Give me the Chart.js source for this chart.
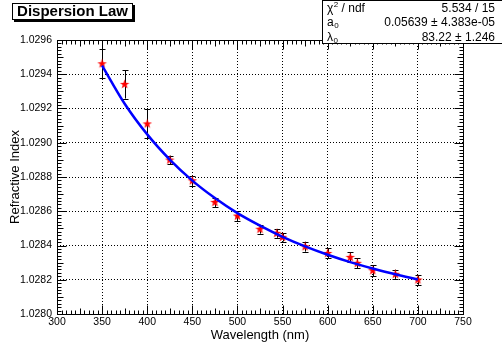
<!DOCTYPE html>
<html>
<head>
<meta charset="utf-8">
<script src="https://cdn.jsdelivr.net/npm/chart.js@4/dist/chart.umd.min.js"></script>
<style>
html, body { margin: 0; padding: 0; background: #fff; }
</style>
</head>
<body>
<canvas id="chart" width="502" height="347"></canvas>
<script>
// measured points (nm, refractive index, error)
const wavelengths = [350, 375, 400, 425, 450, 475, 500, 525, 543.5, 550, 575, 600, 625, 632.8, 650, 675, 700];
const refIndex = [1.029461, 1.029341, 1.029110, 1.028899, 1.028778, 1.028652, 1.028572, 1.028495, 1.028471,
                  1.028448, 1.028393, 1.028354, 1.028331, 1.028296, 1.028253, 1.028232, 1.028199];
const refIndexErr = [0.000085, 0.000083, 0.000085, 0.000026, 0.000030, 0.000027, 0.000027, 0.000026, 0.000026,
                     0.000025, 0.000029, 0.000029, 0.000029, 0.000029, 0.000032, 0.000027, 0.000029];

// fitted curve, read at every 25 nm
const fitWavelengths = [350, 375, 400, 425, 450, 475, 500, 525, 550, 575, 600, 625, 650, 675, 700];
const fitIndex = [1.029451, 1.029228, 1.029049, 1.028902, 1.028779, 1.028677, 1.028589, 1.028516,
                  1.028451, 1.028395, 1.028346, 1.028303, 1.028266, 1.028232, 1.028202];

const xRange = [300, 750];
const yRange = [1.0280, 1.0296];
const xStep = 50;
const yStep = 0.0002;

const plotTitle = 'Dispersion Law';
const statsNames = [['χ', '2', ' / ndf'], ['a', '0', ''], ['λ', '0', '']];
const statsValues = ['5.534 / 15', '0.05639 ± 4.383e-05', '83.22 ± 1.246'];

const FONT = '"Liberation Sans", Arial, Helvetica, sans-serif';

// red filled star, like root marker 29
function makeStar() {
    let c = document.createElement('canvas');
    c.width = 11; c.height = 11;
    let g = c.getContext('2d');
    g.fillStyle = '#ff0000';
    g.beginPath();
    for (let i = 0; i < 10; i++) {
        let r = i % 2 == 0 ? 5 : 2;
        let a = -Math.PI / 2 + i * Math.PI / 5;
        let px = 5.5 + r * Math.cos(a), py = 5.5 + r * Math.sin(a);
        if (i == 0) g.moveTo(px, py); else g.lineTo(px, py);
    }
    g.closePath();
    g.fill();
    return c;
}

const rootStyle = {
    id: 'rootStyle',
    beforeDraw(chart) {
        let ctx = chart.ctx;
        ctx.save();
        ctx.fillStyle = '#fff';
        ctx.fillRect(0, 0, chart.width, chart.height);
        ctx.restore();
    },
    beforeDatasetsDraw(chart) {
        // error bars
        let {ctx, scales: {x, y}} = chart;
        ctx.save();
        ctx.strokeStyle = '#000';
        ctx.lineWidth = 1;
        ctx.beginPath();
        for (let i = 0; i < wavelengths.length; i++) {
            let px = Math.round(x.getPixelForValue(wavelengths[i])) + 0.5;
            let top = y.getPixelForValue(refIndex[i] + refIndexErr[i]);
            let bot = y.getPixelForValue(refIndex[i] - refIndexErr[i]);
            ctx.moveTo(px, top); ctx.lineTo(px, bot);
            ctx.moveTo(px - 3, Math.round(top) + 0.5); ctx.lineTo(px + 3, Math.round(top) + 0.5);
            ctx.moveTo(px - 3, Math.round(bot) + 0.5); ctx.lineTo(px + 3, Math.round(bot) + 0.5);
        }
        ctx.stroke();
        ctx.restore();
    },
    afterDatasetsDraw(chart) {
        let {ctx, chartArea: a, scales: {x, y}} = chart;
        ctx.save();
        ctx.strokeStyle = '#000';
        ctx.lineWidth = 1;
        let L = Math.round(a.left) + 0.5, R = Math.round(a.right) + 0.5;
        let T = Math.round(a.top) + 0.5, B = Math.round(a.bottom) + 0.5;
        ctx.strokeRect(L, T, R - L, B - T);
        ctx.beginPath();
        let nx = Math.round((xRange[1] - xRange[0]) / (xStep / 10));
        for (let i = 0; i <= nx; i++) {
            let v = xRange[0] + i * xStep / 10;
            let len = i % 10 == 0 ? 9 : (i % 5 == 0 ? 6 : 4);
            let px = Math.round(x.getPixelForValue(v)) + 0.5;
            ctx.moveTo(px, B); ctx.lineTo(px, B - len);
            ctx.moveTo(px, T); ctx.lineTo(px, T + len);
        }
        let ny = Math.round((yRange[1] - yRange[0]) / (yStep / 10));
        for (let i = 0; i <= ny; i++) {
            let v = yRange[0] + i * yStep / 10;
            let len = i % 10 == 0 ? 9 : (i % 5 == 0 ? 6 : 4);
            let py = Math.round(y.getPixelForValue(v)) + 0.5;
            ctx.moveTo(L, py); ctx.lineTo(L + len, py);
            ctx.moveTo(R, py); ctx.lineTo(R - len, py);
        }
        ctx.stroke();
        ctx.restore();
    },
    afterDraw(chart) {
        let ctx = chart.ctx;
        ctx.save();
        // title box with shadow
        ctx.fillStyle = '#000';
        ctx.fillRect(14, 5, 121, 17);
        ctx.fillStyle = '#fff';
        ctx.fillRect(12, 3, 121, 17);
        ctx.strokeStyle = '#000';
        ctx.lineWidth = 1;
        ctx.strokeRect(12.5, 3.5, 120, 16);
        ctx.fillStyle = '#000';
        ctx.font = 'bold 15px ' + FONT;
        ctx.textBaseline = 'middle';
        ctx.textAlign = 'center';
        ctx.fillText(plotTitle, 72.5, 12);

        // stats box
        ctx.fillStyle = '#fff';
        ctx.fillRect(322, 0, 180, 44);
        ctx.strokeRect(322.5, 0.5, 180, 43);
        ctx.fillStyle = '#000';
        for (let r = 0; r < statsValues.length; r++) {
            let cy = 8.5 + r * 14.5;
            let parts = statsNames[r];
            ctx.textAlign = 'left';
            ctx.font = '12px ' + FONT;
            let cx = 327;
            ctx.fillText(parts[0], cx, cy);
            cx += ctx.measureText(parts[0]).width;
            ctx.font = '8px ' + FONT;
            ctx.fillText(parts[1], cx + 0.5, r == 0 ? cy - 4 : cy + 3);
            cx += ctx.measureText(parts[1]).width + 0.5;
            ctx.font = '12px ' + FONT;
            ctx.fillText(parts[2], cx, cy);
            ctx.textAlign = 'right';
            ctx.fillText(statsValues[r], 495, cy);
        }
        ctx.restore();
    }
};

new Chart(document.getElementById('chart'), {
    type: 'scatter',
    data: {
        datasets: [{
            type: 'line',
            data: fitWavelengths.map((w, i) => ({x: w, y: fitIndex[i]})),
            borderColor: '#0000ff',
            borderWidth: 2.5,
            pointRadius: 0,
            cubicInterpolationMode: 'monotone',
            fill: false
        }, {
            data: wavelengths.map((w, i) => ({x: w, y: refIndex[i]})),
            pointStyle: makeStar(),
            pointRadius: 5,
            showLine: false
        }]
    },
    options: {
        responsive: false,
        animation: false,
        devicePixelRatio: 1,
        layout: { padding: { left: 0, right: 39, top: 40, bottom: 0 } },
        plugins: { legend: { display: false }, tooltip: { enabled: false } },
        scales: {
            x: {
                type: 'linear',
                min: xRange[0], max: xRange[1],
                afterFit(s) { s.height = 33; },
                ticks: {
                    stepSize: xStep, autoSkip: false, maxRotation: 0,
                    color: '#000', padding: 2,
                    font: { family: FONT, size: 10.5 }
                },
                grid: {
                    drawTicks: false,
                    color: c => (c.tick && (c.tick.value == xRange[0] || c.tick.value == xRange[1])) ? 'rgba(0,0,0,0)' : '#000'
                },
                border: { display: false, dash: [1, 2] },
                title: {
                    display: true, text: 'Wavelength (nm)', color: '#000',
                    font: { family: FONT, size: 13 }, padding: { top: 0, bottom: 3.5 }
                }
            },
            y: {
                type: 'linear',
                min: yRange[0], max: yRange[1],
                afterFit(s) { s.width = 57; },
                ticks: {
                    stepSize: yStep, autoSkip: false, color: '#000', padding: 5,
                    font: { family: FONT, size: 10.5 },
                    callback: v => v.toFixed(4)
                },
                grid: {
                    drawTicks: false,
                    color: c => (c.tick && (Math.abs(c.tick.value - yRange[0]) < 1e-9 || Math.abs(c.tick.value - yRange[1]) < 1e-9)) ? 'rgba(0,0,0,0)' : '#000'
                },
                border: { display: false, dash: [1, 2] },
                title: {
                    display: true, text: 'Refractive Index', color: '#000',
                    font: { family: FONT, size: 13 }, padding: { top: 8, bottom: 0 }
                }
            }
        }
    },
    plugins: [rootStyle]
});
</script>
</body>
</html>
